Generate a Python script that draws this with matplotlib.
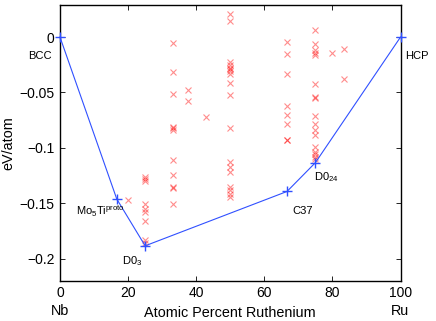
import matplotlib
matplotlib.use("Agg")
import matplotlib.pyplot as plt
from matplotlib.ticker import FuncFormatter

plt.rcParams['font.family'] = ['Liberation Sans', 'DejaVu Sans']
plt.rcParams['mathtext.fontset'] = 'custom'
plt.rcParams['mathtext.rm'] = 'Liberation Sans'
plt.rcParams['mathtext.it'] = 'Liberation Sans'

# Convex hull (ground states)
hull_x = [0, 16.67, 25, 66.67, 75, 100]
hull_y = [0, -0.1462, -0.1885, -0.1394, -0.1134, 0]
hull_labels = ['BCC', 'Mo$_5$Ti$^{\\mathrm{proto}}$', 'D0$_3$', 'C37', 'D0$_{24}$', 'HCP']
label_x = [-9.4, 4.7, 18.1, 68.2, 74.5, 101.5]
label_y = [-0.0199, -0.1607, -0.205, -0.1598, -0.129, -0.0199]

# All calculated structures (composition, formation energy)
pts_25 = [-0.126, -0.128, -0.130, -0.151, -0.155, -0.158, -0.166, -0.183, -0.186]
pts_33 = [-0.0057, -0.0317, -0.0510, -0.0810, -0.0825, -0.0840, -0.1110,
          -0.1243, -0.1357, -0.1365, -0.1505]
pts_50 = [0.0208, 0.0143, -0.0224, -0.0256, -0.0280, -0.0290, -0.0305, -0.0335,
          -0.0413, -0.0525, -0.0820, -0.1130, -0.1176, -0.1220, -0.1350,
          -0.1380, -0.1415, -0.1448]
pts_67 = [-0.0048, -0.0154, -0.0331, -0.0618, -0.0700, -0.0786, -0.0925, -0.0932]
pts_75 = [0.0067, -0.0062, -0.0120, -0.0141, -0.0160, -0.0422, -0.0540, -0.0546,
          -0.0712, -0.0784, -0.0840, -0.0885, -0.0995, -0.1035, -0.1058,
          -0.1083, -0.1100]
other_x = [20, 37.5, 37.5, 42.86, 80, 83.33, 83.33]
other_y = [-0.147, -0.0482, -0.0573, -0.0725, -0.0141, -0.0109, -0.0374]

xs = ([25] * len(pts_25) + [33.33] * len(pts_33) + [50] * len(pts_50)
      + [66.67] * len(pts_67) + [75] * len(pts_75) + other_x)
ys = pts_25 + pts_33 + pts_50 + pts_67 + pts_75 + other_y

fig = plt.figure(figsize=(4.36, 3.21), dpi=100)
ax = fig.add_axes([0.1376, 0.1255, 0.781, 0.859])

ax.plot(xs, ys, linestyle='none', marker='x', color='red', alpha=0.45,
        markersize=5, markeredgewidth=0.8)
ax.plot(hull_x, hull_y, color='#3050ff', linewidth=0.8, marker='+',
        markersize=7, markeredgewidth=1.0, clip_on=False, zorder=3)

for lx, ly, t in zip(label_x, label_y, hull_labels):
    ax.text(lx, ly, t, fontsize=8, ha='left', va='baseline', clip_on=False)

ax.set_xlim(0, 100)
ax.set_ylim(-0.22, 0.029)
ax.set_xticks([0, 20, 40, 60, 80, 100])
ax.set_yticks([-0.2, -0.15, -0.1, -0.05, 0])
ax.yaxis.set_major_formatter(FuncFormatter(lambda v, p: ('%g' % round(v, 3)).replace('-', '\u2212')))
ax.tick_params(direction='in', top=True, right=True, length=3.5, width=0.6,
               labelsize=10, pad=4)
for s in ax.spines.values():
    s.set_linewidth(1.0)

ax.set_xlabel('Atomic Percent Ruthenium', fontsize=10.4, labelpad=4)
ax.set_ylabel('eV/atom', fontsize=10.4, labelpad=3)
fig.text(60 / 436, 1 - 311 / 321, 'Nb', fontsize=10.4, ha='center', va='center')
fig.text(400 / 436, 1 - 311 / 321, 'Ru', fontsize=10.4, ha='center', va='center')

fig.savefig('out.png', dpi=100)
